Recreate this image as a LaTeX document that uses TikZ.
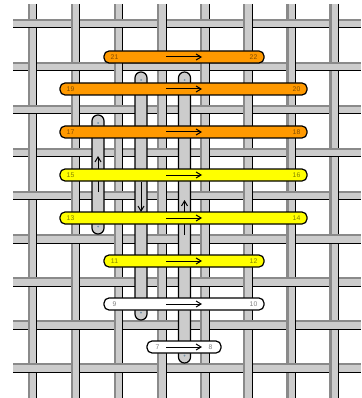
\documentclass[tikz,border=0pt]{standalone}
\usepackage{fontspec}
\setmainfont{Liberation Sans}
\usetikzlibrary{arrows.meta}
\definecolor{barfill}{HTML}{CCCCCC}
\definecolor{bardark}{HTML}{8A8A8A}
\definecolor{pillorange}{HTML}{FF9900}
\definecolor{pillyellow}{HTML}{FFFF00}
\definecolor{dotblue}{HTML}{7090A8}
\newcommand\hbarseg[3]{%
  \fill[barfill] (#1,#3-4.75) rectangle (#2,#3+4.75);
  \fill[bardark] (#1,#3-4.75) rectangle (#2,#3-2.6);
  \draw[line width=1pt] (#1,#3+4.25) -- (#2,#3+4.25);
}
\newcommand\vbarseg[3]{%
  \fill[barfill] (#3-4.75,#1) rectangle (#3+4.75,#2);
  \fill[bardark] (#3-4.75,#1) rectangle (#3-2.6,#2);
  \draw[line width=1pt] (#3+4.25,#1) -- (#3+4.25,#2);
}
\newcommand\loopbar[4]{%
  \draw[loopstyle] (#2-6,#3) rectangle (#2+6,#4);
  \fill[dotblue] (#2,#3+8) circle (1);
  \fill[dotblue] (#2,#4-7.5) circle (1);
}
\newcommand\pill[7]{%
  \draw[pillstyle, fill=#5] (#2,#4-6) rectangle (#3,#4+6);
  \node[pilllabel] (#1l) at (#2+10.5,#4) {#6};
  \node[pilllabel] (#1r) at (#3-10.5,#4) {#7};
  \coordinate (#1a) at (166,#4);
  \coordinate (#1b) at (202,#4);
  \draw[arrowline] (#1a) -- (#1b);
}
\begin{document}
\begin{tikzpicture}[x=1pt,y=-1pt,
  loopstyle/.style={fill=barfill, draw=black, line width=1.2pt, rounded corners=5.9pt},
  pillstyle/.style={draw=black, line width=1.2pt, rounded corners=5pt},
  pilllabel/.style={inner sep=0pt, font=\fontsize{6.8}{7}\selectfont, text=black, text opacity=0.5},
  arrowline/.style={line width=1pt, -{Straight Barb[length=5pt,width=6pt,line width=1pt]}}]
\useasboundingbox[fill=white] (0,0) rectangle (361,398);
% grid
\foreach \r in {0,...,8} {
  \pgfmathsetmacro\yy{23.5+43.06*\r}
  \hbarseg{13}{361}{\yy}
}
\foreach \c in {0,...,7} {
  \pgfmathsetmacro\xx{32.5+43.1*\c}
  \vbarseg{4}{398}{\xx}
}
\foreach \r in {0,...,8} {
  \foreach \c in {0,...,7} {
    \pgfmathsetmacro\yy{23.5+43.06*\r}
    \pgfmathsetmacro\xx{32.5+43.1*\c}
    \pgfmathtruncatemacro\wparity{mod(\r+\c,2)}
    \ifnum\wparity=0 \hbarseg{\xx-5.6}{\xx+5.6}{\yy}\fi
  }
}
% vertical loops
\loopbar{A}{98}{115}{234}
\loopbar{B}{141}{72}{320}
\loopbar{C}{184.5}{72}{363}
\coordinate (Aa) at (98,192);   \coordinate (Ab) at (98,156);
\coordinate (Ba) at (141,182);  \coordinate (Bb) at (141,212);
\coordinate (Ca) at (184.5,235);\coordinate (Cb) at (184.5,200);
\draw[arrowline] (Aa) -- (Ab);
\draw[arrowline] (Ba) -- (Bb);
\draw[arrowline] (Ca) -- (Cb);
% pills
\pill{p21}{104}{264}{57}{pillorange}{21}{22}
\pill{p19}{60}{307}{89}{pillorange}{19}{20}
\pill{p17}{60}{307}{132}{pillorange}{17}{18}
\pill{p15}{60}{307}{175}{pillyellow}{15}{16}
\pill{p13}{60}{307}{218}{pillyellow}{13}{14}
\pill{p11}{104}{264}{261}{pillyellow}{11}{12}
\pill{p9}{104}{264}{304}{white}{9}{10}
\pill{p7}{147}{221}{347}{white}{7}{8}
\end{tikzpicture}
\end{document}
